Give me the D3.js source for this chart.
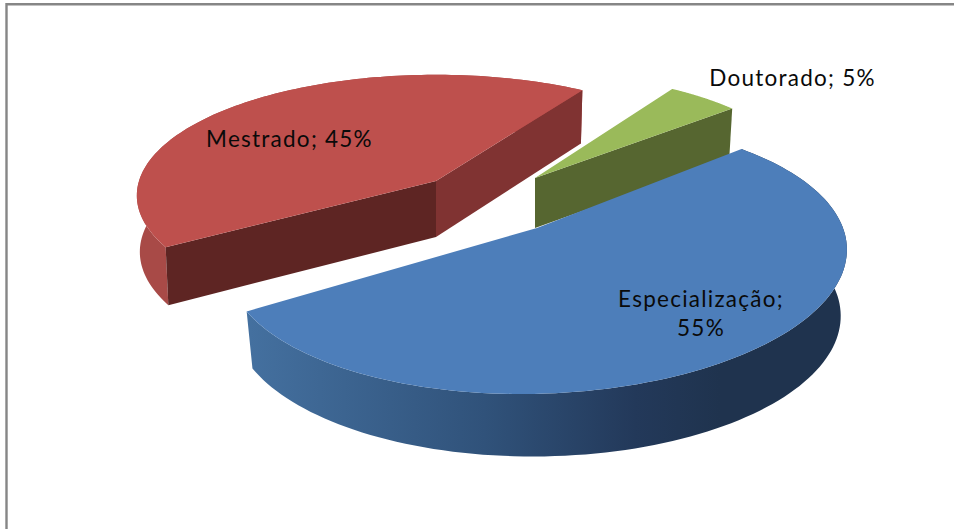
<!DOCTYPE html>
<html lang="pt">
<head>
<meta charset="utf-8">
<title>Titulação</title>
<script src="https://cdn.jsdelivr.net/npm/d3@7/dist/d3.min.js"></script>
<style>
  html, body { margin: 0; background: #fff; }
  svg { display: block; }
  text { font-family: Lato, "Open Sans", sans-serif; font-size: 22.5px; fill: #0a0a0a; letter-spacing: 1.25px; text-anchor: middle; }
</style>
</head>
<body>
<svg id="chart" width="954" height="529"></svg>
<script>
// Data series, in drawing order around the pie
const categories = ["Especialização", "Mestrado", "Doutorado"];
const values = [55, 45, 5];

const width = 954, height = 529;
const firstSliceAngle = 50 * Math.PI / 180;
const drawOrder = ["Mestrado", "Doutorado", "Especialização"];

// Per-slice placement of the exploded wedge: plane centre, radii and foreshortening,
// a vertical skew for each face, and which side walls face the viewer.
const layout = {
  "Especialização": { cx: 537, cy: 228, rx: 303, ry: 131, k: 0.21, depth: 61, sx: 0.98, sy: 1.01,
    skewTop: -7, skewLow: -2,
    top: "#4d7eba", faces: { arc: "url(#blueWall)" },
    label: { x: 701, ys: [307, 336] } },
  "Mestrado": { cx: 436, cy: 181, rx: 297, ry: 119, k: 0.12, depth: 56, sx: 0.99, sy: 1.03,
    skewTop: 0, skewLow: 0,
    top: "#be504d", faces: { arc: "#a84a47", start: "#5e2523", end: "#803332" },
    label: { x: 289.5, ys: [147] } },
  "Doutorado": { cx: 535, cy: 178, rx: 274, ry: 115, k: 0.10, depth: 50, sx: 0.985, sy: 1.0,
    skewTop: 0, skewLow: 0,
    top: "#9aba5a", faces: { end: "#566630" },
    label: { x: 792.5, ys: [86] } }
};

const svg = d3.select("#chart");

// Horizontal shading along the curved wall of the largest slice
const grad = svg.append("defs").append("linearGradient")
  .attr("id", "blueWall").attr("gradientUnits", "userSpaceOnUse")
  .attr("x1", 250).attr("x2", 720).attr("y1", 0).attr("y2", 0);
[[0, "#44709f"], [0.5, "#30527a"], [0.82, "#23395a"], [1, "#1f334e"]]
  .forEach(([o, c]) => grad.append("stop").attr("offset", o).attr("stop-color", c));

// Chart-area frame: only the top and left borders show
svg.append("path").attr("d", `M6.5,${height}V4.3H${width}`)
  .attr("fill", "none").attr("stroke", "#868686").attr("stroke-width", 2.4);

const pie = d3.pie().sort(null)
  .startAngle(firstSliceAngle).endAngle(firstSliceAngle + 2 * Math.PI);
const slices = pie(values).map((d, i) => ({ ...d, name: categories[i] }));

// Perspective projection of a pie-plane angle or apex onto the screen
function project(p, angle, radius, lower) {
  const u = radius * Math.sin(angle), v = -radius * Math.cos(angle);
  const w = 1 / (1 - p.k * v);
  const dx = p.rx * u * w, dy = p.ry * v * w;
  return lower
    ? [p.cx + dx * p.sx, p.cy + p.depth + dy * p.sy + p.skewLow * u * w]
    : [p.cx + dx, p.cy + dy + p.skewTop * u * w];
}

const line = d3.line();
const arcAngles = (a, b) => d3.range(0, 121).map(i => a + (b - a) * i / 120);

drawOrder.forEach(name => {
  const s = slices.find(d => d.name === name);
  const p = layout[name];
  const g = svg.append("g").attr("class", "slice");
  const angles = arcAngles(s.startAngle, s.endAngle);
  const rim = angles.map(a => project(p, a, 1, false));

  if (p.faces.arc) {
    const lowerRim = angles.map(a => project(p, a, 1, true)).reverse();
    g.append("path").attr("d", line(rim.concat(lowerRim)) + "Z").attr("fill", p.faces.arc);
  }
  [["start", s.startAngle], ["end", s.endAngle]].forEach(([key, a]) => {
    if (!p.faces[key]) return;
    const quad = [project(p, a, 0, false), project(p, a, 1, false),
                  project(p, a, 1, true), project(p, a, 0, true)];
    g.append("path").attr("d", line(quad) + "Z").attr("fill", p.faces[key]);
  });
  g.append("path").attr("d", line([project(p, 0, 0, false), ...rim]) + "Z").attr("fill", p.top);
});

// Data labels in "category; value%" form
slices.forEach(s => {
  const p = layout[s.name];
  const parts = p.label.ys.length > 1
    ? [`${s.name};`, `${s.data}%`]
    : [`${s.name}; ${s.data}%`];
  parts.forEach((t, i) => {
    svg.append("text").attr("x", p.label.x).attr("y", p.label.ys[i]).text(t);
  });
});
</script>
</body>
</html>
